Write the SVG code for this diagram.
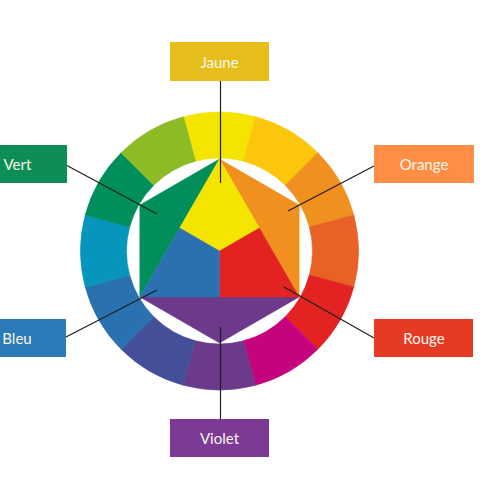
<svg xmlns="http://www.w3.org/2000/svg" xmlns:xlink="http://www.w3.org/1999/xlink" width="500" height="500" viewBox="0 0 500 500">
  <style>
    .lbl { font-family: Lato, "Open Sans", "Liberation Sans", sans-serif; font-size: 15px; fill: #FBF6EA; text-anchor: middle; dominant-baseline: central; }
    .conn { stroke: #1e1e1e; stroke-width: 1.2; fill: none; }
  </style>
  <defs>
    <path id="seg" d="M -35.98 -134.26 A 139 139 0 0 1 35.98 -134.26 L 24.07 -89.83 A 93 93 0 0 0 -24.07 -89.83 Z"/>
  </defs>
  <rect width="500" height="500" fill="#ffffff"/>

  <g id="wheel" transform="translate(219.5 251)">
    <g id="ring" stroke-width="0.6">
      <use xlink:href="#seg" href="#seg" fill="#F3E500" stroke="#F3E500"/>
      <use xlink:href="#seg" href="#seg" fill="#FCC60C" stroke="#FCC60C" transform="rotate(30)"/>
      <use xlink:href="#seg" href="#seg" fill="#F0901F" stroke="#F0901F" transform="rotate(60)"/>
      <use xlink:href="#seg" href="#seg" fill="#E86226" stroke="#E86226" transform="rotate(90)"/>
      <use xlink:href="#seg" href="#seg" fill="#E32322" stroke="#E32322" transform="rotate(120)"/>
      <use xlink:href="#seg" href="#seg" fill="#C4037D" stroke="#C4037D" transform="rotate(150)"/>
      <use xlink:href="#seg" href="#seg" fill="#6D398B" stroke="#6D398B" transform="rotate(180)"/>
      <use xlink:href="#seg" href="#seg" fill="#444E99" stroke="#444E99" transform="rotate(210)"/>
      <use xlink:href="#seg" href="#seg" fill="#2A71B0" stroke="#2A71B0" transform="rotate(240)"/>
      <use xlink:href="#seg" href="#seg" fill="#0696BB" stroke="#0696BB" transform="rotate(270)"/>
      <use xlink:href="#seg" href="#seg" fill="#008E5B" stroke="#008E5B" transform="rotate(300)"/>
      <use xlink:href="#seg" href="#seg" fill="#8CBB26" stroke="#8CBB26" transform="rotate(330)"/>
    </g>
    <g id="inner" stroke-width="0.5">
      <polygon points="0,-92 -79.67,-46 -79.67,46" fill="#008E5B" stroke="#008E5B"/>
      <polygon points="0,-92 79.67,-46 79.67,46" fill="#F0901F" stroke="#F0901F"/>
      <polygon points="-79.67,46 79.67,46 0,92" fill="#6D398B" stroke="#6D398B"/>
      <polygon points="0,-92 39.84,-23 0,0 -39.84,-23" fill="#F3E500" stroke="#F3E500"/>
      <polygon points="39.84,-23 79.67,46 0,46 0,0" fill="#E32322" stroke="#E32322"/>
      <polygon points="-39.84,-23 0,0 0,46 -79.67,46" fill="#2B71B0" stroke="#2B71B0"/>
    </g>
  </g>

  <g id="connectors">
    <line class="conn" x1="220.5" y1="81" x2="220.5" y2="183"/>
    <line class="conn" x1="66" y1="165" x2="157" y2="214"/>
    <line class="conn" x1="374" y1="166" x2="288" y2="211"/>
    <line class="conn" x1="66" y1="337" x2="157" y2="290"/>
    <line class="conn" x1="284" y1="287" x2="374" y2="338"/>
    <line class="conn" x1="220.5" y1="327" x2="220.5" y2="419"/>
  </g>

  <g id="jaune">
    <rect x="170" y="42" width="99" height="39" fill="#E6BE1B"/>
    <text class="lbl" x="219.5" y="62">Jaune</text>
  </g>
  <g id="vert">
    <rect x="-33" y="145" width="100" height="38" fill="#0E8E57"/>
    <text class="lbl" x="17.5" y="164">Vert</text>
  </g>
  <g id="orange">
    <rect x="374" y="145" width="100" height="38" fill="#FE8D45"/>
    <text class="lbl" x="424" y="164">Orange</text>
  </g>
  <g id="bleu">
    <rect x="-33" y="319" width="99" height="38" fill="#2A7BB8"/>
    <text class="lbl" x="17" y="338">Bleu</text>
  </g>
  <g id="rouge">
    <rect x="374" y="319" width="99" height="38" fill="#E53B25"/>
    <text class="lbl" x="424" y="338">Rouge</text>
  </g>
  <g id="violet">
    <rect x="170" y="419" width="99" height="38" fill="#7C3A96"/>
    <text class="lbl" x="219.5" y="438">Violet</text>
  </g>
</svg>
